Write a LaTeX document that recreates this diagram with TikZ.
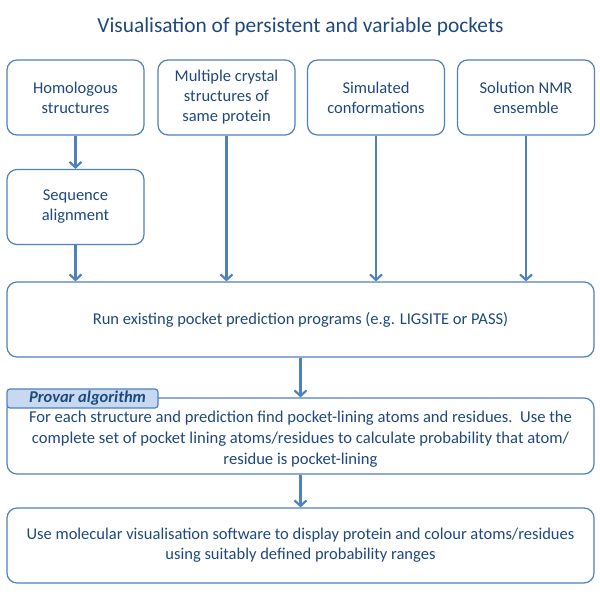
\documentclass[tikz,border=0pt]{standalone}
\usepackage{fontspec}
\setmainfont{Carlito}
\usetikzlibrary{arrows.meta}
\definecolor{bord}{HTML}{4F81BD}
\definecolor{txt}{HTML}{1F497D}
\definecolor{tabfill}{HTML}{C6D9F1}
\begin{document}
\begin{tikzpicture}[x=1pt,y=-1pt,
  box/.style={draw=bord, line width=1.2pt, rounded corners=10pt, fill=white, text=txt,
    align=center, inner sep=0pt, font=\fontsize{16.5}{20}\selectfont},
  small/.style={box, minimum width=137pt, minimum height=75pt},
  wide/.style={box, minimum width=587pt, minimum height=75pt},
  conn/.style={draw=bord, line width=2.2pt, -{Straight Barb[length=5.5pt,width=12pt]}}]
\useasboundingbox (0,0) rectangle (600,596);
\node[text=txt, font=\fontsize{21.4}{25}\selectfont] (title) at (300.5,27) {Visualisation of persistent and variable pockets};
\node[small] (b1) at (75.5,97.5) {Homologous\\structures};
\node[small] (b2) at (226.5,97.5) {Multiple crystal\\structures of\\same protein};
\node[small] (b3) at (376,97.5) {Simulated\\conformations};
\node[small] (b4) at (526,97.5) {Solution NMR\\ensemble};
\node[small] (seq) at (75.5,207) {Sequence\\alignment};
\node[wide] (main) at (300.5,319.5) {Run existing pocket prediction programs (e.g. LIGSITE or PASS)};
\node[wide, minimum height=76pt] (prov) at (300.5,436) {};
\node[text=txt, align=center, inner sep=0pt, font=\fontsize{16.6}{21}\selectfont] (provtext) at (300.5,439) {For each structure and prediction find pocket-lining atoms and residues.\ \ Use the\\complete set of pocket lining atoms/residues to calculate probability that atom/\\residue is pocket-lining};
\node[draw=bord, line width=1.2pt, fill=tabfill, rounded corners=3pt, minimum width=151pt, minimum height=19pt,
  inner sep=0pt, text=txt, font=\fontsize{16.5}{20}\selectfont\bfseries\itshape] (tab) at (82.5,398.5) {\hspace*{10pt}Provar algorithm\hfill\null};
\node[wide] (fin) at (300.5,545.5) {Use molecular visualisation software to display protein and colour atoms/residues\\using suitably defined probability ranges};
\draw[conn] (b1.south) -- (seq.north);
\draw[conn] (seq.south) -- (seq.south |- main.north);
\draw[conn] (b2.south) -- (b2.south |- main.north);
\draw[conn] (b3.south) -- (b3.south |- main.north);
\draw[conn] (b4.south) -- (b4.south |- main.north);
\draw[conn] (main.south) -- (prov.north);
\draw[conn] (prov.south) -- (fin.north);
\end{tikzpicture}
\end{document}
